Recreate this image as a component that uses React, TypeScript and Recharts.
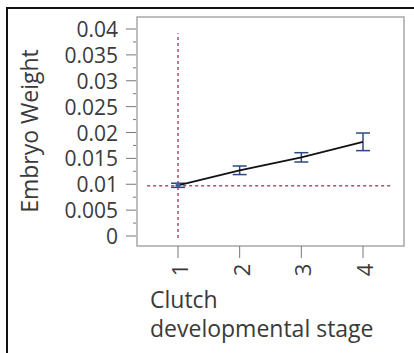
import React from "react";
import {
  ComposedChart,
  Line,
  XAxis,
  YAxis,
  ErrorBar,
  ReferenceLine,
  ReferenceArea,
  Label,
} from "recharts";

const stages = [1, 2, 3, 4];
const embryoWeight = [0.0098, 0.0127, 0.0152, 0.0182];
const weightError = [0.0004, 0.00083, 0.0009, 0.0017];

const yMajorTicks = [0, 0.005, 0.01, 0.015, 0.02, 0.025, 0.03, 0.035, 0.04];
const yMajorLabels = ["0", "0.005", "0.01", "0.015", "0.02", "0.025", "0.03", "0.035", "0.04"];
const yMinorTicks = [0.0025, 0.0075, 0.0125, 0.0175, 0.0225, 0.0275, 0.0325, 0.0375];

const grandMean = 0.0097;

const data = stages.map((s, i) => ({
  stage: s,
  weight: embryoWeight[i],
  err: weightError[i],
}));

const allYTicks = [...yMajorTicks, ...yMinorTicks].sort((a, b) => a - b);

const FONT = "'Open Sans', sans-serif";
const TEXT = "#3a3a3a";

const YTick = (props: any) => {
  const { x, y, payload } = props;
  const idx = yMajorTicks.findIndex((t) => Math.abs(t - payload.value) < 1e-9);
  if (idx < 0) {
    return <line x1={x - 4} x2={x - 1} y1={y} y2={y} stroke="#777" strokeWidth={1} />;
  }
  return (
    <g>
      <line x1={x - 11} x2={x - 1} y1={y} y2={y} stroke="#777" strokeWidth={1} />
      <text
        x={x - 19}
        y={y}
        textAnchor="end"
        dominantBaseline="central"
        fontSize={21}
        fontFamily={FONT}
        fill={TEXT}
      >
        {yMajorLabels[idx]}
      </text>
    </g>
  );
};

const XTick = (props: any) => {
  const { x, y, payload } = props;
  return (
    <g>
      <line x1={x} x2={x} y1={y} y2={y + 12} stroke="#777" strokeWidth={1} />
      <text
        x={x + 10}
        y={y + 24}
        transform={`rotate(-90, ${x + 10}, ${y + 24})`}
        textAnchor="middle"
        fontSize={22}
        fontFamily={FONT}
        fill={TEXT}
      >
        {payload.value}
      </text>
    </g>
  );
};

const XLabel = (props: any) => {
  const { viewBox } = props;
  const x = viewBox.x + 13;
  return (
    <g>
      <text x={x} y={viewBox.y + 62} fontSize={23} fontFamily={FONT} fill={TEXT}>
        Clutch
      </text>
      <text x={x} y={viewBox.y + 91} fontSize={23} fontFamily={FONT} fill={TEXT}>
        developmental stage
      </text>
    </g>
  );
};

const YLabel = () => (
  <text
    x={38}
    y={131}
    transform="rotate(-90, 38, 131)"
    textAnchor="middle"
    fontSize={23}
    fontFamily={FONT}
    fill={TEXT}
  >
    Embryo Weight
  </text>
);

const FirstDot = (props: any) => {
  const { cx, cy, index } = props;
  if (index !== 0) return <g key={`d${index}`} />;
  return <circle key={`d${index}`} cx={cx} cy={cy} r={2.5} fill="#4a5a9a" />;
};

export default function App() {
  return (
    <div style={{ position: "absolute", left: 0, top: 0, width: 414, height: 353, background: "#fff" }}>
      <div
        style={{
          position: "absolute",
          left: 6,
          top: 7,
          width: 420,
          height: 360,
          borderTop: "2px solid #111",
          borderLeft: "2px solid #111",
        }}
      />
      <div style={{ position: "absolute", left: 0, top: 0 }}>
        <ComposedChart
          width={414}
          height={353}
          data={data}
          margin={{ top: 17, right: 10, left: 0, bottom: 0 }}
        >
          <XAxis
            dataKey="stage"
            type="number"
            domain={[0.335, 4.665]}
            ticks={stages}
            interval={0}
            allowDataOverflow
            height={107}
            axisLine={false}
            tickLine={false}
            tickSize={0}
            tickMargin={0}
            tick={<XTick />}
          >
            <Label content={<XLabel />} />
          </XAxis>
          <YAxis
            type="number"
            domain={[-0.00193, 0.04232]}
            ticks={allYTicks}
            interval={0}
            allowDataOverflow
            width={137}
            axisLine={false}
            tickLine={false}
            tickSize={0}
            tickMargin={0}
            tick={<YTick />}
          >
            <Label content={<YLabel />} />
          </YAxis>
          <ReferenceArea
            x1={0.335}
            x2={4.665}
            y1={-0.00193}
            y2={0.04232}
            fill="none"
            stroke="#a8a8a8"
            strokeWidth={1.5}
            fillOpacity={0}
          />
          <ReferenceLine
            segment={[
              { x: 0.5, y: grandMean },
              { x: 4.47, y: grandMean },
            ]}
            stroke="#b04a6e"
            strokeDasharray="3 3"
            strokeWidth={1.5}
          />
          <ReferenceLine
            segment={[
              { x: 1, y: -0.0004 },
              { x: 1, y: 0.0392 },
            ]}
            stroke="#b04a6e"
            strokeDasharray="3 3"
            strokeWidth={1.5}
          />
          <Line
            dataKey="weight"
            stroke="#111"
            strokeWidth={1.8}
            dot={<FirstDot />}
            activeDot={false}
            isAnimationActive={false}
          >
            <ErrorBar
              dataKey="err"
              direction="y"
              width={7}
              stroke="#2c4a7e"
              strokeWidth={1.5}
              isAnimationActive={false}
            />
          </Line>
        </ComposedChart>
      </div>
    </div>
  );
}
